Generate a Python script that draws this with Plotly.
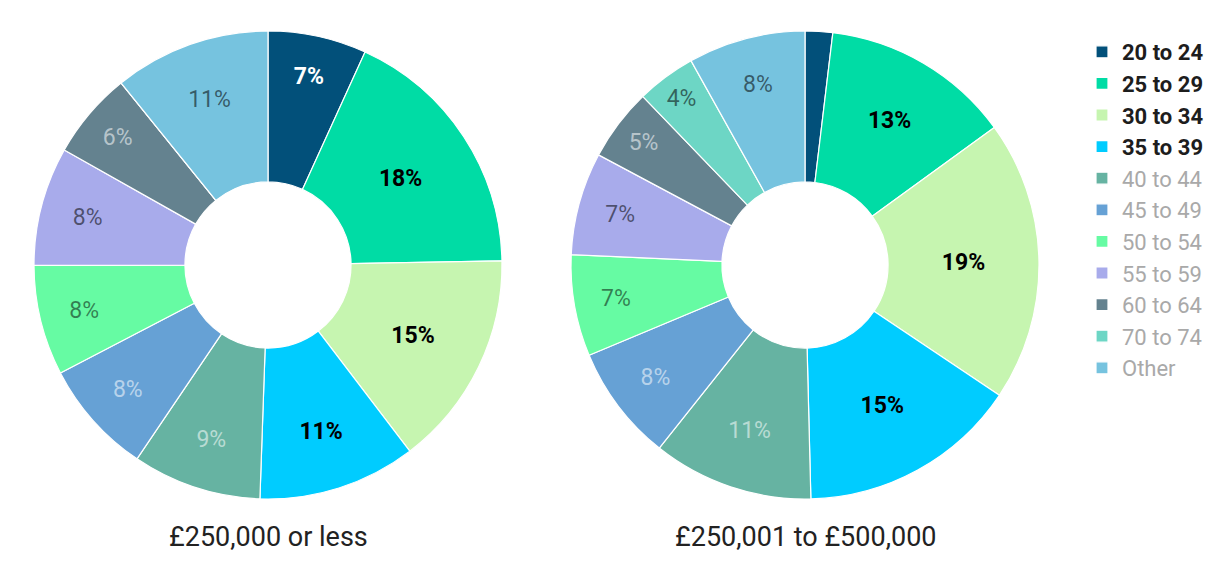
import plotly.graph_objects as go

categories = ["20 to 24", "25 to 29", "30 to 34", "35 to 39", "40 to 44", "45 to 49",
              "50 to 54", "55 to 59", "60 to 64", "70 to 74", "Other"]
highlighted = ["20 to 24", "25 to 29", "30 to 34", "35 to 39"]
group_titles = ["£250,000 or less", "£250,001 to £500,000"]
values_low = [6.8, 17.9, 14.9, 10.9, 8.9, 7.9, 7.6, 8.2, 6.0, 0, 10.8]
values_mid = [1.9, 13.1, 19.4, 15.2, 11.1, 8.0, 7.0, 7.1, 5.0, 4.1, 8.1]
hidden_labels_mid = ["20 to 24"]

colors = ["#02507a", "#00dca5", "#c6f5b0", "#00ccff", "#66b3a2", "#66a1d5",
          "#66fba3", "#a8abeb", "#64828f", "#6dd6c5", "#76c3df"]
text_colors = ["#ffffff", "#000000", "#000000", "#000000",
               "rgba(255,255,255,0.55)", "rgba(255,255,255,0.55)",
               "rgba(0,0,0,0.5)", "rgba(0,0,0,0.55)", "rgba(255,255,255,0.55)",
               "rgba(0,0,0,0.55)", "rgba(0,0,0,0.55)"]

FONT = "Roboto, 'Open Sans', sans-serif"


def legend_label(c):
    if c in highlighted:
        return f"<b><span style='color:#1d1d1d'>{c}</span></b>"
    return f"<span style='color:#a9a9a9'>{c}</span>"


labels = [legend_label(c) for c in categories]


def templates(hidden=()):
    out = []
    for c in categories:
        if c in hidden:
            out.append("")
        elif c in highlighted:
            out.append("<b>%{percent:.0%}</b>")
        else:
            out.append("%{percent:.0%}")
    return out


fig = go.Figure()
H = 582.0
W = 1220.0
ydom = [(H - 499) / H, (H - 31) / H]
domains = [[34 / W, 502 / W], [571 / W, 1039 / W]]

for vals, dom, hidden in [
    (values_low, domains[0], ()),
    (values_mid, domains[1], tuple(hidden_labels_mid)),
]:
    fig.add_trace(go.Pie(
        labels=labels,
        values=vals,
        hole=0.355,
        sort=False,
        direction="clockwise",
        rotation=0,
        marker=dict(colors=colors, line=dict(color="#ffffff", width=1.2)),
        texttemplate=templates(hidden),
        textposition="inside",
        insidetextorientation="horizontal",
        textfont=dict(family=FONT, size=23, color=text_colors),
        hoverinfo="label+percent",
        domain=dict(x=dom, y=ydom),
    ))

for title, dom in zip(group_titles, domains):
    fig.add_annotation(
        text=title, x=(dom[0] + dom[1]) / 2, y=1 - 537 / H,
        xref="paper", yref="paper", xanchor="center", yanchor="middle",
        showarrow=False, font=dict(family=FONT, size=27, color="#222222"),
    )

fig.update_layout(
    width=1220, height=582,
    margin=dict(l=0, r=0, t=0, b=0),
    paper_bgcolor="#ffffff",
    plot_bgcolor="#ffffff",
    font=dict(family=FONT, size=22, color="#1d1d1d"),
    legend=dict(x=1082 / W, xanchor="left", y=1 - 31 / H, yanchor="top",
                font=dict(family=FONT, size=22), tracegroupgap=0,
                bgcolor="rgba(0,0,0,0)"),
)

fig.write_html("out.html")
